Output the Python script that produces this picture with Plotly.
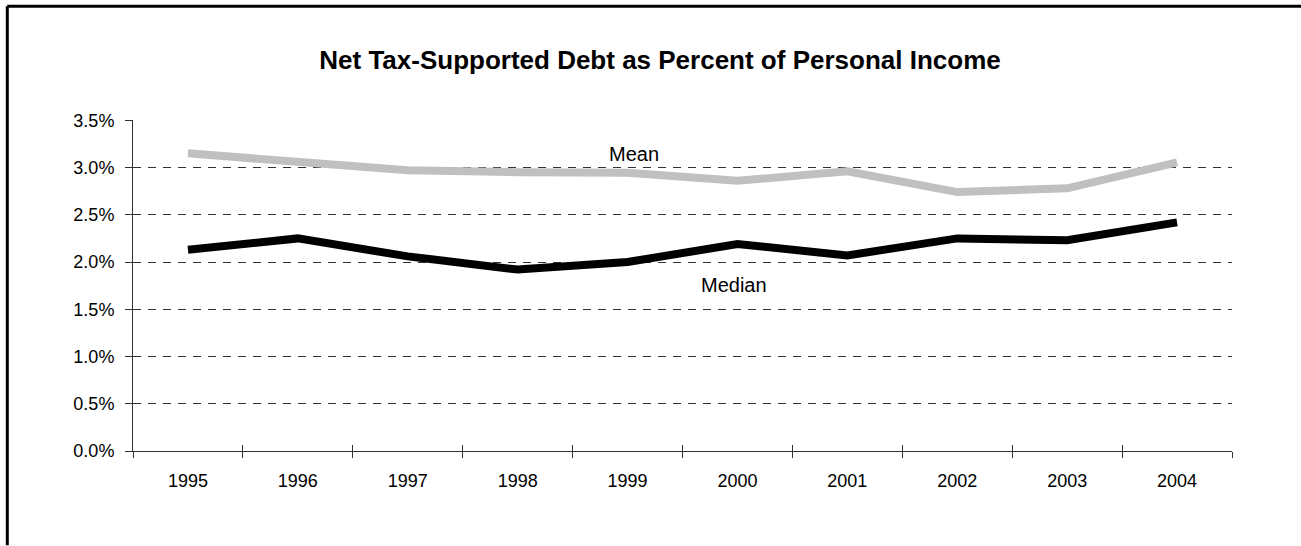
import plotly.graph_objects as go

years = ["1995", "1996", "1997", "1998", "1999", "2000", "2001", "2002", "2003", "2004"]
mean_vals = [3.15, 3.07, 2.97, 2.95, 2.945, 2.86, 2.96, 2.74, 2.78, 3.055]
median_vals = [2.13, 2.25, 2.06, 1.92, 2.00, 2.19, 2.07, 2.25, 2.23, 2.42]
y_ticks = [0, 0.5, 1.0, 1.5, 2.0, 2.5, 3.0, 3.5]
y_tick_labels = ["0.0%", "0.5%", "1.0%", "1.5%", "2.0%", "2.5%", "3.0%", "3.5%"]
title_text = "Net Tax-Supported Debt as Percent of Personal Income"
mean_label, mean_label_year, mean_label_y = "Mean", "1999", 3.14
median_label, median_label_year, median_label_y = "Median", "2000", 1.76

FONT = "Liberation Sans Narrow, Arial Narrow, Liberation Sans, Arial, sans-serif"
L, R, T, B = 133, 69, 120, 94.5
W, H = 1301, 546
pw, ph = W - L - R, H - T - B

fig = go.Figure()
fig.add_trace(go.Scatter(x=years, y=mean_vals, mode="lines", name="Mean",
                         line=dict(color="#C0C0C0", width=8), showlegend=False, hoverinfo="skip"))
fig.add_trace(go.Scatter(x=years, y=median_vals, mode="lines", name="Median",
                         line=dict(color="#000000", width=8), showlegend=False, hoverinfo="skip"))
# invisible trace carrying the overlay axis that draws the inward half of the crossing ticks
fig.add_trace(go.Scatter(x=years, y=median_vals, xaxis="x2", mode="lines",
                         line=dict(color="rgba(0,0,0,0)", width=0), showlegend=False, hoverinfo="skip"))

fig.add_annotation(x=years.index(mean_label_year), y=mean_label_y, text=mean_label,
                   showarrow=False, xshift=6,
                   font=dict(family="Liberation Sans, Arial, sans-serif", size=20, color="#000"))
fig.add_annotation(x=years.index(median_label_year), y=median_label_y, text=median_label,
                   showarrow=False, xshift=-3,
                   font=dict(family="Liberation Sans, Arial, sans-serif", size=20, color="#000"))

# outer frame: only its left and top edges fall inside the picture
fx0 = (7.3 - L) / pw
fx1 = (W - L) / pw
fy0 = -B / ph
fy1 = ((H - B) - 6.2) / ph
fig.add_shape(type="line", xref="paper", yref="paper", x0=fx0, x1=fx0, y0=fy0, y1=fy1,
              line=dict(color="#000", width=3), layer="above")
fig.add_shape(type="line", xref="paper", yref="paper", x0=fx0, x1=fx1, y0=fy1, y1=fy1,
              line=dict(color="#000", width=3), layer="above")

fig.update_layout(
    width=W, height=H,
    margin=dict(l=L, r=R, t=T, b=B, pad=0),
    paper_bgcolor="white", plot_bgcolor="white",
    title=dict(text="<b>" + title_text + "</b>", x=660 / W, xanchor="center",
               y=1 - 60 / H, yanchor="middle",
               font=dict(family="Liberation Sans Narrow, Arial Narrow, Liberation Sans, Arial, sans-serif",
                         size=26, color="#000")),
    xaxis=dict(type="category", categoryorder="array", categoryarray=years,
               range=[-0.5, 9.5], showgrid=False, zeroline=False,
               showline=True, linecolor="#333", linewidth=1,
               ticks="outside", tickson="boundaries", ticklen=6, tickcolor="#333", tickwidth=1,
               tickfont=dict(family=FONT, size=18, color="#000"), ticklabelstandoff=13),
    xaxis2=dict(type="category", categoryorder="array", categoryarray=years,
                range=[-0.5, 9.5], overlaying="x", anchor="y", side="bottom",
                showgrid=False, zeroline=False, showline=False, showticklabels=False,
                ticks="inside", tickson="boundaries", ticklen=6, tickcolor="#333", tickwidth=1),
    yaxis=dict(range=[0, 3.503], tickvals=y_ticks, ticktext=y_tick_labels,
               showgrid=True, gridcolor="#333", gridwidth=1, griddash="8px,7px",
               zeroline=False, showline=True, linecolor="#333", linewidth=1,
               ticks="outside", ticklen=7, tickcolor="#333", tickwidth=1,
               tickfont=dict(family=FONT, size=18, color="#000"), ticklabelstandoff=7),
)

fig.write_html("out.html", config={"displayModeBar": False},
               post_script="document.documentElement.style.overflow='hidden';"
                           "document.body.style.margin='0';document.body.style.overflow='hidden';")
